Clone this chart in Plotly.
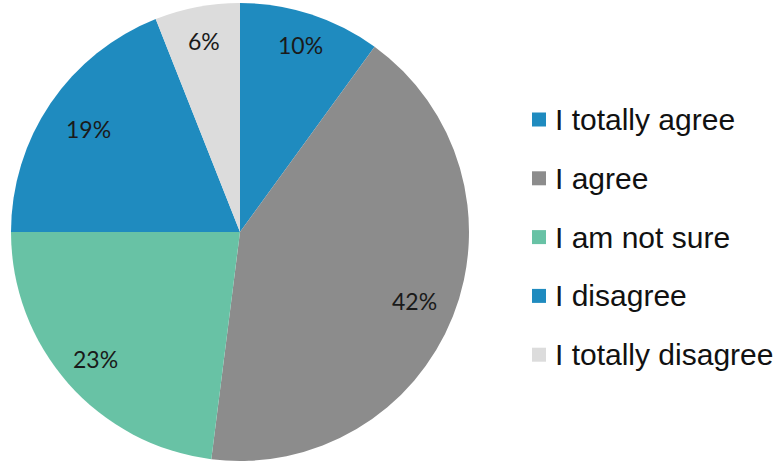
import math
import plotly.graph_objects as go

# Survey answers and their shares (percent)
categories = ["I totally agree", "I agree", "I am not sure", "I disagree", "I totally disagree"]
shares = [10, 42, 23, 19, 6]
colors = ["#1f8bbf", "#8c8c8c", "#68c2a5", "#1f8bbf", "#dcdcdc"]

W, H = 782, 463
# pie placement in pixels
cx, cy, R = 240, 232, 229
# radial placement of each percentage label, as a fraction of the radius
label_radius = [0.86, 0.82, 0.84, 0.80, 0.85]

fig = go.Figure(go.Pie(
    labels=categories,
    values=shares,
    marker=dict(colors=colors, line=dict(width=0)),
    sort=False,
    direction="clockwise",
    rotation=0,
    textinfo="none",
    hoverinfo="label+percent",
    showlegend=False,
    domain=dict(x=[(cx - R) / W, (cx + R) / W], y=[1 - (cy + R) / H, 1 - (cy - R) / H]),
))

annotations = []
shapes = []
total = sum(shares)
cum = 0
for i, v in enumerate(shares):
    mid = (cum + v / 2) / total * 2 * math.pi
    cum += v
    r = label_radius[i] * R
    px = cx + r * math.sin(mid)
    py = cy - r * math.cos(mid)
    annotations.append(dict(
        x=px / W, y=1 - py / H, xref="paper", yref="paper",
        text=f"{round(v / total * 100)}%", showarrow=False,
        font=dict(family="Lato", size=23, color="#1a1a1a"),
        xanchor="center", yanchor="middle",
    ))

# legend drawn as swatches + text
leg_x, leg_y0, leg_dy, sw = 532, 119.5, 58.8, 14
for i, name in enumerate(categories):
    yc = leg_y0 + i * leg_dy
    shapes.append(dict(
        type="rect", xref="paper", yref="paper",
        x0=leg_x / W, x1=(leg_x + sw) / W,
        y0=1 - (yc + sw / 2) / H, y1=1 - (yc - sw / 2) / H,
        fillcolor=colors[i], line=dict(width=0),
    ))
    annotations.append(dict(
        x=(leg_x + sw + 7) / W, y=1 - yc / H, xref="paper", yref="paper",
        text=name, showarrow=False,
        font=dict(family="Liberation Sans", size=30, color="#111111"),
        xanchor="left", yanchor="middle",
    ))

fig.update_layout(
    width=W, height=H,
    margin=dict(l=0, r=0, t=0, b=0),
    paper_bgcolor="white",
    plot_bgcolor="white",
    annotations=annotations,
    shapes=shapes,
)

fig.write_html("out.html")
